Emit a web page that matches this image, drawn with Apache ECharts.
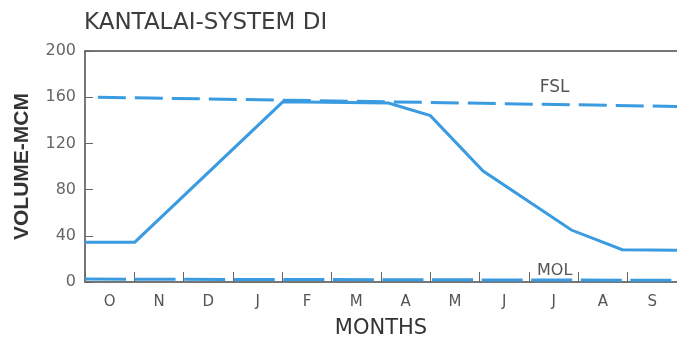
<!DOCTYPE html>
<html>
<head>
<meta charset="utf-8">
<script src="https://cdn.jsdelivr.net/npm/echarts@6/dist/echarts.min.js"></script>
<style>
  html, body { margin: 0; padding: 0; background: #ffffff; }
  #chart { width: 677px; height: 344px; }
</style>
</head>
<body>
<div id="chart"></div>
<script>
// Categories (months, Oct–Sep)
const months = ['O', 'N', 'D', 'J', 'F', 'M', 'A', 'M', 'J', 'J', 'A', 'S'];
// y-axis tick values
const yTicks = [0, 40, 80, 120, 160, 200];

// Storage volume curve: [month position (0 = start of Oct, 12 = end of Sep), volume MCM]
const volumeX = [0, 1.01, 4.01, 6.15, 7.0, 8.07, 9.86, 10.89, 12];
const volumeY = [34.5, 34.5, 156, 155, 144, 96, 45, 28, 27.5];

// Full supply level (FSL)
const fslX = [0.26, 12];
const fslY = [160, 152];

// Minimum operating level (MOL)
const molX = [0, 12];
const molY = [2.5, 1.5];

const zip = (xs, ys) => xs.map((x, i) => [x, ys[i]]);

const blue = '#3a9be0';
const axisCol = '#4a4a4a';

const chart = echarts.init(document.getElementById('chart'), null, { renderer: 'canvas' });
chart.setOption({
  animation: false,
  backgroundColor: '#ffffff',
  title: {
    text: 'KANTALAI-SYSTEM DI',
    left: 84,
    top: 12,
    padding: 0,
    textStyle: { fontFamily: 'DejaVu Sans', fontSize: 23, fontWeight: 'normal', color: '#3d3d3d' }
  },
  grid: { left: 85, right: -3, top: 51, bottom: 61 },
  xAxis: [
    {
      type: 'category',
      data: months,
      position: 'bottom',
      boundaryGap: true,
      name: 'MONTHS',
      nameLocation: 'middle',
      nameGap: 36,
      nameTextStyle: { fontFamily: 'DejaVu Sans', fontSize: 21, color: '#333333' },
      axisLine: { lineStyle: { color: axisCol, width: 1.5 } },
      axisTick: { show: true, inside: true, length: 10, lineStyle: { color: '#666', width: 1 } },
      axisLabel: { fontFamily: 'DejaVu Sans', fontSize: 15, color: '#555', margin: 13 },
      splitLine: { show: false }
    },
    {
      type: 'value',
      position: 'top',
      min: 0,
      max: 12,
      axisLine: { show: true, onZero: false, lineStyle: { color: axisCol, width: 1.5 } },
      axisTick: { show: false },
      axisLabel: { show: false },
      splitLine: { show: false }
    }
  ],
  yAxis: {
    type: 'value',
    min: 0,
    max: 200,
    interval: 40,
    name: 'VOLUME-MCM',
    nameLocation: 'middle',
    nameGap: 52,
    nameTextStyle: { fontFamily: 'Liberation Sans', fontSize: 21, fontWeight: 'bold', color: '#333333' },
    axisLine: { show: true, lineStyle: { color: axisCol, width: 1.5 } },
    axisTick: { show: true, inside: true, length: 8, lineStyle: { color: '#666', width: 1 } },
    axisLabel: {
      fontFamily: 'DejaVu Sans', fontSize: 16, color: '#666', margin: 9,
      formatter: v => yTicks.includes(v) ? String(v) : ''
    },
    splitLine: { show: false }
  },
  series: [
    {
      name: 'FSL',
      type: 'line',
      xAxisIndex: 1,
      data: zip(fslX, fslY),
      symbol: 'none',
      lineStyle: { color: blue, width: 3, type: [28, 9], cap: 'butt' },
      markPoint: {
        symbol: 'circle', symbolSize: 0,
        label: { show: true, formatter: 'FSL', fontFamily: 'DejaVu Sans', fontSize: 17, color: '#555' },
        data: [{ coord: [9.52, 168] }]
      },
      z: 2
    },
    {
      name: 'MOL',
      type: 'line',
      xAxisIndex: 1,
      data: zip(molX, molY),
      symbol: 'none',
      lineStyle: { color: blue, width: 3, type: [41, 8.58], cap: 'butt' },
      markPoint: {
        symbol: 'circle', symbolSize: 0,
        label: { show: true, formatter: 'MOL', fontFamily: 'DejaVu Sans', fontSize: 16, color: '#555' },
        data: [{ coord: [9.52, 9.5] }]
      },
      z: 2
    },
    {
      name: 'Volume',
      type: 'line',
      xAxisIndex: 1,
      data: zip(volumeX, volumeY),
      symbol: 'none',
      lineStyle: { color: blue, width: 3, join: 'miter' },
      z: 3
    }
  ]
});
</script>
</body>
</html>
